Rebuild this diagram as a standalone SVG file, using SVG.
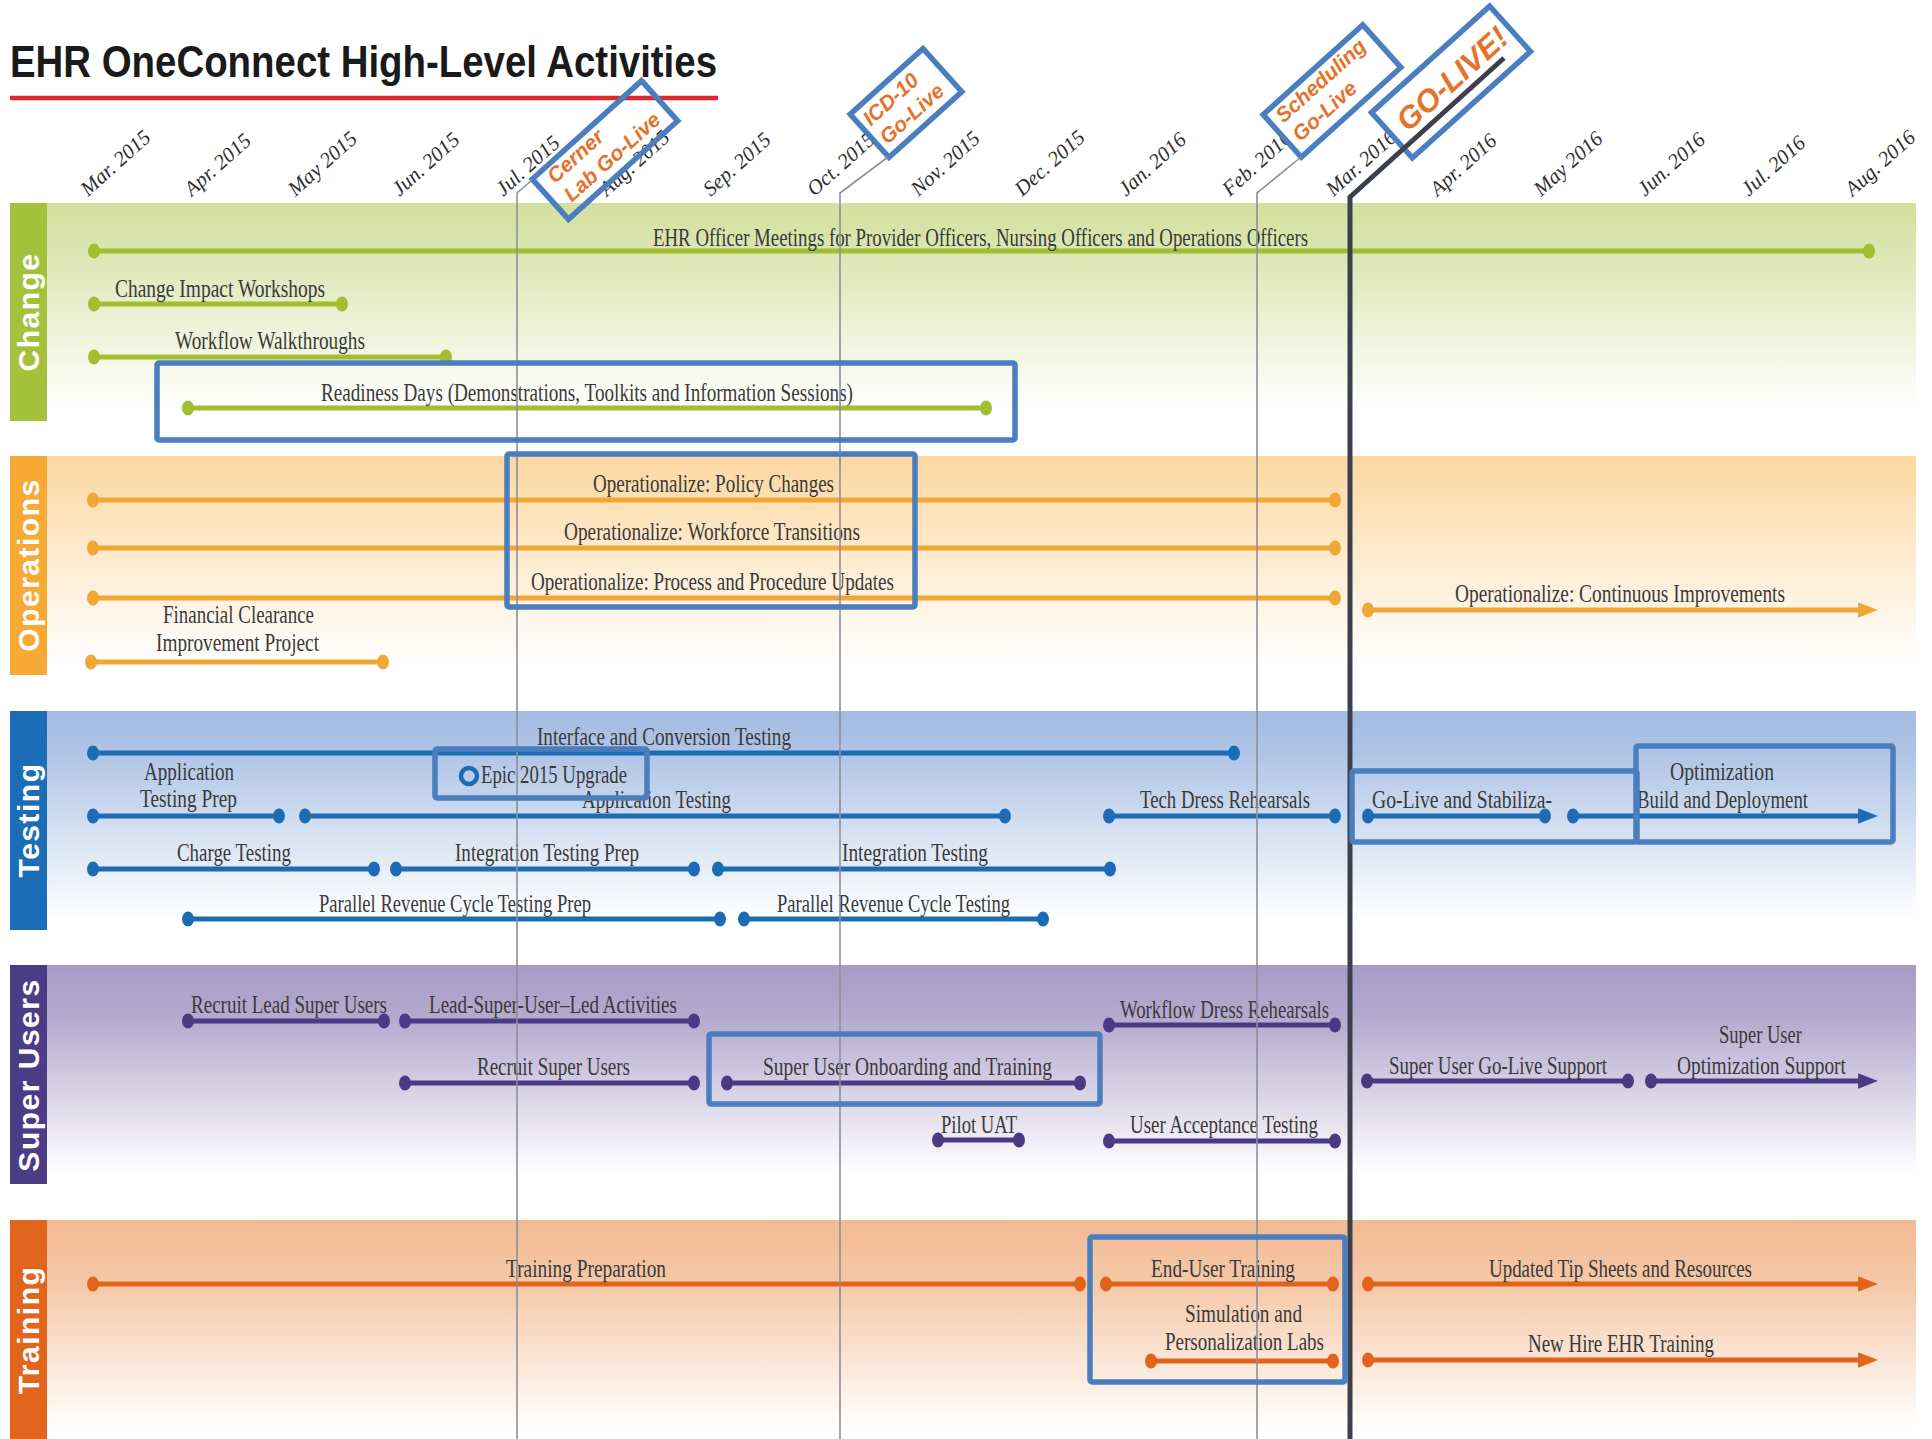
<svg xmlns="http://www.w3.org/2000/svg" width="1932" height="1439" viewBox="0 0 1932 1439">
<style>
.title{font-family:"Liberation Sans",Arial,sans-serif;font-weight:bold;font-size:44px;fill:#1a1a1a}
.mon{font-family:"Liberation Serif","Times New Roman",serif;font-style:italic;font-size:21px;fill:#2e2e2e}
.bt{font-family:"Liberation Sans",Arial,sans-serif;font-weight:bold;font-size:30px;fill:#fff;letter-spacing:1.5px}
.lbl{font-family:"Liberation Serif","Times New Roman",serif;font-size:25px;fill:#3a3a3a}
.ms{font-family:"Liberation Sans",Arial,sans-serif;font-weight:bold;font-style:italic;font-size:21px;fill:#e4722b}
.msbig{font-size:31px}
.hl{fill:none;stroke:#4a7ebf;stroke-width:5.5}
.msbox{stroke:#4a7ebf;stroke-width:5.5}
.thin{fill:none;stroke:#8c9099;stroke-width:1.6}
.thick{fill:none;stroke:#3c404d;stroke-width:5}
.chg line{stroke:#a2be2e;stroke-width:5}.chg ellipse{fill:#a2be2e}
.ops line{stroke:#f2a636;stroke-width:5}.ops ellipse{fill:#f2a636}
.tst line{stroke:#1c6cb5;stroke-width:5}.tst ellipse{fill:#1c6cb5}
.su line{stroke:#4a3a86;stroke-width:5}.su ellipse{fill:#4a3a86}
.trn line{stroke:#e2641c;stroke-width:5}.trn ellipse{fill:#e2641c}
</style>
<defs>
<linearGradient id="gChg" x1="0" y1="0" x2="0" y2="1"><stop offset="0" stop-color="#d3df9c"/><stop offset="0.2" stop-color="#dbe5b0"/><stop offset="0.95" stop-color="#ffffff"/></linearGradient>
<linearGradient id="gOps" x1="0" y1="0" x2="0" y2="1"><stop offset="0" stop-color="#fcd7a0"/><stop offset="0.2" stop-color="#fde0b4"/><stop offset="0.95" stop-color="#ffffff"/></linearGradient>
<linearGradient id="gTst" x1="0" y1="0" x2="0" y2="1"><stop offset="0" stop-color="#a3bbe1"/><stop offset="0.2" stop-color="#b0c5e6"/><stop offset="0.95" stop-color="#ffffff"/></linearGradient>
<linearGradient id="gSu" x1="0" y1="0" x2="0" y2="1"><stop offset="0" stop-color="#a69bc5"/><stop offset="0.25" stop-color="#b5abcf"/><stop offset="0.95" stop-color="#ffffff"/></linearGradient>
<linearGradient id="gTrn" x1="0" y1="0" x2="0" y2="1"><stop offset="0" stop-color="#f2b993"/><stop offset="0.3" stop-color="#f5c9a8"/><stop offset="0.95" stop-color="#ffffff"/></linearGradient>
<marker id="aOps" markerUnits="userSpaceOnUse" markerWidth="20" markerHeight="16" refX="8" refY="7" orient="auto" viewBox="0 0 18 14"><path d="M0,0 L18,7 L0,14 Z" fill="#f2a636"/></marker>
<marker id="aTst" markerUnits="userSpaceOnUse" markerWidth="20" markerHeight="16" refX="8" refY="7" orient="auto" viewBox="0 0 18 14"><path d="M0,0 L18,7 L0,14 Z" fill="#1c6cb5"/></marker>
<marker id="aSu" markerUnits="userSpaceOnUse" markerWidth="20" markerHeight="16" refX="8" refY="7" orient="auto" viewBox="0 0 18 14"><path d="M0,0 L18,7 L0,14 Z" fill="#4a3a86"/></marker>
<marker id="aTrn" markerUnits="userSpaceOnUse" markerWidth="20" markerHeight="16" refX="8" refY="7" orient="auto" viewBox="0 0 18 14"><path d="M0,0 L18,7 L0,14 Z" fill="#e2641c"/></marker>
</defs>
<rect x="0" y="0" width="1932" height="1439" fill="#ffffff"/>

<!-- title -->
<g id="title">
<text class="title" x="10" y="77" textLength="707" lengthAdjust="spacingAndGlyphs">EHR OneConnect High-Level Activities</text>
<line x1="10" y1="98" x2="718" y2="98" stroke="#e0292f" stroke-width="4.5"/>
</g>

<!-- bands -->
<g id="bands">
<rect x="47" y="203" width="1869" height="218" fill="url(#gChg)"/>
<rect x="10" y="203" width="37" height="218" fill="#a5c13b"/>
<text class="bt" transform="translate(39,312) rotate(-90)" text-anchor="middle">Change</text>
<rect x="47" y="456" width="1869" height="219" fill="url(#gOps)"/>
<rect x="10" y="456" width="37" height="219" fill="#f6a935"/>
<text class="bt" transform="translate(39,565) rotate(-90)" text-anchor="middle">Operations</text>
<rect x="47" y="711" width="1869" height="219" fill="url(#gTst)"/>
<rect x="10" y="711" width="37" height="219" fill="#1a6db6"/>
<text class="bt" transform="translate(39,820) rotate(-90)" text-anchor="middle">Testing</text>
<rect x="47" y="965" width="1869" height="219" fill="url(#gSu)"/>
<rect x="10" y="965" width="37" height="219" fill="#4b3c86"/>
<text class="bt" transform="translate(39,1075) rotate(-90)" text-anchor="middle">Super Users</text>
<rect x="47" y="1220" width="1869" height="219" fill="url(#gTrn)"/>
<rect x="10" y="1220" width="37" height="219" fill="#e2651e"/>
<text class="bt" transform="translate(39,1330) rotate(-90)" text-anchor="middle">Training</text>
</g>

<!-- month labels -->
<g id="months">
<text class="mon" transform="translate(88,197) rotate(-42)">Mar. 2015</text>
<text class="mon" transform="translate(191.8,197) rotate(-42)">Apr. 2015</text>
<text class="mon" transform="translate(295.6,197) rotate(-42)">May 2015</text>
<text class="mon" transform="translate(399.4,197) rotate(-42)">Jun. 2015</text>
<text class="mon" transform="translate(503.2,197) rotate(-42)">Jul. 2015</text>
<text class="mon" transform="translate(607,197) rotate(-42)">Aug. 2015</text>
<text class="mon" transform="translate(710.8,197) rotate(-42)">Sep. 2015</text>
<text class="mon" transform="translate(814.6,197) rotate(-42)">Oct. 2015</text>
<text class="mon" transform="translate(918.4,197) rotate(-42)">Nov. 2015</text>
<text class="mon" transform="translate(1022.2,197) rotate(-42)">Dec. 2015</text>
<text class="mon" transform="translate(1126,197) rotate(-42)">Jan. 2016</text>
<text class="mon" transform="translate(1229.8,197) rotate(-42)">Feb. 2016</text>
<text class="mon" transform="translate(1333.6,197) rotate(-42)">Mar. 2016</text>
<text class="mon" transform="translate(1437.4,197) rotate(-42)">Apr. 2016</text>
<text class="mon" transform="translate(1541.2,197) rotate(-42)">May 2016</text>
<text class="mon" transform="translate(1645,197) rotate(-42)">Jun. 2016</text>
<text class="mon" transform="translate(1748.8,197) rotate(-42)">Jul. 2016</text>
<text class="mon" transform="translate(1852.6,197) rotate(-42)">Aug. 2016</text>
</g>

<!-- Change activities -->
<g id="chg-officer" class="chg"><line x1="94" y1="251" x2="1869" y2="251"/><ellipse cx="94" cy="251" rx="6" ry="7.5"/><ellipse cx="1869" cy="251" rx="6" ry="7.5"/><text class="lbl" x="653" y="246" textLength="655" lengthAdjust="spacingAndGlyphs">EHR Officer Meetings for Provider Officers, Nursing Officers and Operations Officers</text></g>
<g id="chg-impact" class="chg"><line x1="94" y1="304" x2="342" y2="304"/><ellipse cx="94" cy="304" rx="6" ry="7.5"/><ellipse cx="342" cy="304" rx="6" ry="7.5"/><text class="lbl" x="115" y="297" textLength="210" lengthAdjust="spacingAndGlyphs">Change Impact Workshops</text></g>
<g id="chg-walk" class="chg"><line x1="94" y1="357" x2="446" y2="357"/><ellipse cx="94" cy="357" rx="6" ry="7.5"/><ellipse cx="446" cy="357" rx="6" ry="7.5"/><text class="lbl" x="175" y="349" textLength="190" lengthAdjust="spacingAndGlyphs">Workflow Walkthroughs</text></g>
<g id="chg-readiness" class="chg"><line x1="188" y1="408" x2="986" y2="408"/><ellipse cx="188" cy="408" rx="6" ry="7.5"/><ellipse cx="986" cy="408" rx="6" ry="7.5"/><text class="lbl" x="321" y="401" textLength="532" lengthAdjust="spacingAndGlyphs">Readiness Days (Demonstrations, Toolkits and Information Sessions)</text></g>

<!-- Operations activities -->
<g id="ops-policy" class="ops"><line x1="93" y1="500" x2="1335" y2="500"/><ellipse cx="93" cy="500" rx="6" ry="7.5"/><ellipse cx="1335" cy="500" rx="6" ry="7.5"/><text class="lbl" x="593" y="492" textLength="241" lengthAdjust="spacingAndGlyphs">Operationalize: Policy Changes</text></g>
<g id="ops-workforce" class="ops"><line x1="93" y1="548" x2="1335" y2="548"/><ellipse cx="93" cy="548" rx="6" ry="7.5"/><ellipse cx="1335" cy="548" rx="6" ry="7.5"/><text class="lbl" x="564" y="540" textLength="296" lengthAdjust="spacingAndGlyphs">Operationalize: Workforce Transitions</text></g>
<g id="ops-process" class="ops"><line x1="93" y1="598" x2="1335" y2="598"/><ellipse cx="93" cy="598" rx="6" ry="7.5"/><ellipse cx="1335" cy="598" rx="6" ry="7.5"/><text class="lbl" x="531" y="590" textLength="363" lengthAdjust="spacingAndGlyphs">Operationalize: Process and Procedure Updates</text></g>
<g id="ops-continuous" class="ops"><line x1="1368" y1="610" x2="1867" y2="610" marker-end="url(#aOps)"/><ellipse cx="1368" cy="610" rx="6" ry="7.5"/><text class="lbl" x="1455" y="602" textLength="330" lengthAdjust="spacingAndGlyphs">Operationalize: Continuous Improvements</text></g>
<g id="ops-financial" class="ops"><line x1="91" y1="662" x2="383" y2="662"/><ellipse cx="91" cy="662" rx="6" ry="7.5"/><ellipse cx="383" cy="662" rx="6" ry="7.5"/><text class="lbl" x="163" y="623" textLength="151" lengthAdjust="spacingAndGlyphs">Financial Clearance</text><text class="lbl" x="156" y="651" textLength="163" lengthAdjust="spacingAndGlyphs">Improvement Project</text></g>

<!-- Testing activities -->
<g id="tst-interface" class="tst"><line x1="93" y1="753" x2="1234" y2="753"/><ellipse cx="93" cy="753" rx="6" ry="7.5"/><ellipse cx="1234" cy="753" rx="6" ry="7.5"/><text class="lbl" x="537" y="745" textLength="254" lengthAdjust="spacingAndGlyphs">Interface and Conversion Testing</text></g>
<g id="tst-appprep" class="tst"><line x1="93" y1="816" x2="279" y2="816"/><ellipse cx="93" cy="816" rx="6" ry="7.5"/><ellipse cx="279" cy="816" rx="6" ry="7.5"/><text class="lbl" x="144" y="780" textLength="90" lengthAdjust="spacingAndGlyphs">Application</text><text class="lbl" x="140" y="807" textLength="97" lengthAdjust="spacingAndGlyphs">Testing Prep</text></g>
<g id="tst-app" class="tst"><line x1="305" y1="816" x2="1005" y2="816"/><ellipse cx="305" cy="816" rx="6" ry="7.5"/><ellipse cx="1005" cy="816" rx="6" ry="7.5"/><text class="lbl" x="582" y="808" textLength="149" lengthAdjust="spacingAndGlyphs">Application Testing</text></g>
<g id="tst-epic" class="tst"><circle cx="469" cy="776" r="8" fill="none" stroke="#1c6cb5" stroke-width="4.5"/><text class="lbl" x="481" y="783" textLength="146" lengthAdjust="spacingAndGlyphs">Epic 2015 Upgrade</text></g>
<g id="tst-techdress" class="tst"><line x1="1109" y1="816" x2="1335" y2="816"/><ellipse cx="1109" cy="816" rx="6" ry="7.5"/><ellipse cx="1335" cy="816" rx="6" ry="7.5"/><text class="lbl" x="1140" y="808" textLength="170" lengthAdjust="spacingAndGlyphs">Tech Dress Rehearsals</text></g>
<g id="tst-golive" class="tst"><line x1="1368" y1="816" x2="1545" y2="816"/><ellipse cx="1368" cy="816" rx="6" ry="7.5"/><ellipse cx="1545" cy="816" rx="6" ry="7.5"/><text class="lbl" x="1372" y="808" textLength="180" lengthAdjust="spacingAndGlyphs">Go-Live and Stabiliza-</text></g>
<g id="tst-optim" class="tst"><line x1="1573" y1="816" x2="1867" y2="816" marker-end="url(#aTst)"/><ellipse cx="1573" cy="816" rx="6" ry="7.5"/><text class="lbl" x="1670" y="780" textLength="104" lengthAdjust="spacingAndGlyphs">Optimization</text><text class="lbl" x="1637" y="808" textLength="171" lengthAdjust="spacingAndGlyphs">Build and Deployment</text></g>
<g id="tst-charge" class="tst"><line x1="93" y1="869" x2="374" y2="869"/><ellipse cx="93" cy="869" rx="6" ry="7.5"/><ellipse cx="374" cy="869" rx="6" ry="7.5"/><text class="lbl" x="177" y="861" textLength="114" lengthAdjust="spacingAndGlyphs">Charge Testing</text></g>
<g id="tst-intprep" class="tst"><line x1="396" y1="869" x2="694" y2="869"/><ellipse cx="396" cy="869" rx="6" ry="7.5"/><ellipse cx="694" cy="869" rx="6" ry="7.5"/><text class="lbl" x="455" y="861" textLength="184" lengthAdjust="spacingAndGlyphs">Integration Testing Prep</text></g>
<g id="tst-int" class="tst"><line x1="718" y1="869" x2="1110" y2="869"/><ellipse cx="718" cy="869" rx="6" ry="7.5"/><ellipse cx="1110" cy="869" rx="6" ry="7.5"/><text class="lbl" x="842" y="861" textLength="146" lengthAdjust="spacingAndGlyphs">Integration Testing</text></g>
<g id="tst-prcprep" class="tst"><line x1="188" y1="919" x2="720" y2="919"/><ellipse cx="188" cy="919" rx="6" ry="7.5"/><ellipse cx="720" cy="919" rx="6" ry="7.5"/><text class="lbl" x="319" y="912" textLength="272" lengthAdjust="spacingAndGlyphs">Parallel Revenue Cycle Testing Prep</text></g>
<g id="tst-prc" class="tst"><line x1="744" y1="919" x2="1043" y2="919"/><ellipse cx="744" cy="919" rx="6" ry="7.5"/><ellipse cx="1043" cy="919" rx="6" ry="7.5"/><text class="lbl" x="777" y="912" textLength="233" lengthAdjust="spacingAndGlyphs">Parallel Revenue Cycle Testing</text></g>

<!-- Super Users activities -->
<g id="su-recruitlead" class="su"><line x1="188" y1="1021" x2="384" y2="1021"/><ellipse cx="188" cy="1021" rx="6" ry="7.5"/><ellipse cx="384" cy="1021" rx="6" ry="7.5"/><text class="lbl" x="191" y="1013" textLength="196" lengthAdjust="spacingAndGlyphs">Recruit Lead Super Users</text></g>
<g id="su-leadled" class="su"><line x1="405" y1="1021" x2="694" y2="1021"/><ellipse cx="405" cy="1021" rx="6" ry="7.5"/><ellipse cx="694" cy="1021" rx="6" ry="7.5"/><text class="lbl" x="429" y="1013" textLength="248" lengthAdjust="spacingAndGlyphs">Lead-Super-User–Led Activities</text></g>
<g id="su-wdr" class="su"><line x1="1109" y1="1025" x2="1335" y2="1025"/><ellipse cx="1109" cy="1025" rx="6" ry="7.5"/><ellipse cx="1335" cy="1025" rx="6" ry="7.5"/><text class="lbl" x="1120" y="1018" textLength="209" lengthAdjust="spacingAndGlyphs">Workflow Dress Rehearsals</text></g>
<g id="su-recruit" class="su"><line x1="405" y1="1083" x2="694" y2="1083"/><ellipse cx="405" cy="1083" rx="6" ry="7.5"/><ellipse cx="694" cy="1083" rx="6" ry="7.5"/><text class="lbl" x="477" y="1075" textLength="153" lengthAdjust="spacingAndGlyphs">Recruit Super Users</text></g>
<g id="su-onboard" class="su"><line x1="727" y1="1083" x2="1080" y2="1083"/><ellipse cx="727" cy="1083" rx="6" ry="7.5"/><ellipse cx="1080" cy="1083" rx="6" ry="7.5"/><text class="lbl" x="763" y="1075" textLength="289" lengthAdjust="spacingAndGlyphs">Super User Onboarding and Training</text></g>
<g id="su-golive" class="su"><line x1="1367" y1="1081" x2="1628" y2="1081"/><ellipse cx="1367" cy="1081" rx="6" ry="7.5"/><ellipse cx="1628" cy="1081" rx="6" ry="7.5"/><text class="lbl" x="1389" y="1074" textLength="218" lengthAdjust="spacingAndGlyphs">Super User Go-Live Support</text></g>
<g id="su-optim" class="su"><line x1="1651" y1="1081" x2="1867" y2="1081" marker-end="url(#aSu)"/><ellipse cx="1651" cy="1081" rx="6" ry="7.5"/><text class="lbl" x="1719" y="1043" textLength="83" lengthAdjust="spacingAndGlyphs">Super User</text><text class="lbl" x="1677" y="1074" textLength="169" lengthAdjust="spacingAndGlyphs">Optimization Support</text></g>
<g id="su-pilot" class="su"><line x1="938" y1="1140" x2="1019" y2="1140"/><ellipse cx="938" cy="1140" rx="6" ry="7.5"/><ellipse cx="1019" cy="1140" rx="6" ry="7.5"/><text class="lbl" x="941" y="1133" textLength="76" lengthAdjust="spacingAndGlyphs">Pilot UAT</text></g>
<g id="su-uat" class="su"><line x1="1109" y1="1141" x2="1335" y2="1141"/><ellipse cx="1109" cy="1141" rx="6" ry="7.5"/><ellipse cx="1335" cy="1141" rx="6" ry="7.5"/><text class="lbl" x="1130" y="1133" textLength="188" lengthAdjust="spacingAndGlyphs">User Acceptance Testing</text></g>

<!-- Training activities -->
<g id="trn-prep" class="trn"><line x1="93" y1="1284" x2="1080" y2="1284"/><ellipse cx="93" cy="1284" rx="6" ry="7.5"/><ellipse cx="1080" cy="1284" rx="6" ry="7.5"/><text class="lbl" x="506" y="1277" textLength="160" lengthAdjust="spacingAndGlyphs">Training Preparation</text></g>
<g id="trn-eut" class="trn"><line x1="1106" y1="1284" x2="1333" y2="1284"/><ellipse cx="1106" cy="1284" rx="6" ry="7.5"/><ellipse cx="1333" cy="1284" rx="6" ry="7.5"/><text class="lbl" x="1151" y="1277" textLength="144" lengthAdjust="spacingAndGlyphs">End-User Training</text></g>
<g id="trn-sim" class="trn"><line x1="1151" y1="1361" x2="1333" y2="1361"/><ellipse cx="1151" cy="1361" rx="6" ry="7.5"/><ellipse cx="1333" cy="1361" rx="6" ry="7.5"/><text class="lbl" x="1185" y="1322" textLength="117" lengthAdjust="spacingAndGlyphs">Simulation and</text><text class="lbl" x="1165" y="1350" textLength="159" lengthAdjust="spacingAndGlyphs">Personalization Labs</text></g>
<g id="trn-tips" class="trn"><line x1="1368" y1="1284" x2="1867" y2="1284" marker-end="url(#aTrn)"/><ellipse cx="1368" cy="1284" rx="6" ry="7.5"/><text class="lbl" x="1489" y="1277" textLength="263" lengthAdjust="spacingAndGlyphs">Updated Tip Sheets and Resources</text></g>
<g id="trn-newhire" class="trn"><line x1="1368" y1="1360" x2="1867" y2="1360" marker-end="url(#aTrn)"/><ellipse cx="1368" cy="1360" rx="6" ry="7.5"/><text class="lbl" x="1528" y="1352" textLength="186" lengthAdjust="spacingAndGlyphs">New Hire EHR Training</text></g>

<!-- milestone boxes -->
<g id="ms-cerner" transform="translate(605,150) rotate(-42)">
<rect class="msbox" x="-73.5" y="-27" width="147" height="54" fill="none"/>
<text class="ms" x="-60" y="-8">Cerner</text>
<text class="ms" x="-60" y="17">Lab Go-Live</text>
</g>
<g id="ms-icd" transform="translate(906,103) rotate(-42)">
<rect class="msbox" x="-49" y="-29" width="98" height="58" fill="#ffffff"/>
<text class="ms" x="-42" y="-6">ICD-10</text>
<text class="ms" x="-42" y="19">Go-Live</text>
</g>
<g id="ms-sched" transform="translate(1332,91) rotate(-42)">
<rect class="msbox" x="-67" y="-28.5" width="134" height="57" fill="#ffffff"/>
<text class="ms" x="-58" y="-8">Scheduling</text>
<text class="ms" x="-58" y="17">Go-Live</text>
</g>
<g id="ms-golive" transform="translate(1451,82) rotate(-42)">
<rect class="msbox" x="-79.5" y="-30.5" width="159" height="61" fill="#ffffff"/>
<text class="ms msbig" x="-66" y="9">GO-LIVE!</text>
</g>

<!-- connectors: milestone lines -->
<g id="connectors">
<polyline class="thin" points="517,1439 517,193 532,180"/>
<polyline class="thin" points="840,1439 840,193 888,157"/>
<polyline class="thin" points="1257,1439 1257,193 1301,157"/>
<polyline class="thick" points="1350,1439 1350,197 1504,58"/>
</g>

<!-- highlight boxes -->
<g id="highlights">
<rect class="hl" x="157" y="363" width="858" height="77" rx="2"/>
<rect class="hl" x="507" y="454" width="408" height="153" rx="2"/>
<rect class="hl" x="435" y="749" width="212" height="49" rx="2"/>
<rect class="hl" x="1352" y="771" width="285" height="71" rx="2"/>
<rect class="hl" x="1636" y="746" width="257" height="96" rx="2"/>
<rect class="hl" x="709" y="1034" width="391" height="70" rx="2"/>
<rect class="hl" x="1090" y="1237" width="255" height="145" rx="2"/>
</g>
</svg>
